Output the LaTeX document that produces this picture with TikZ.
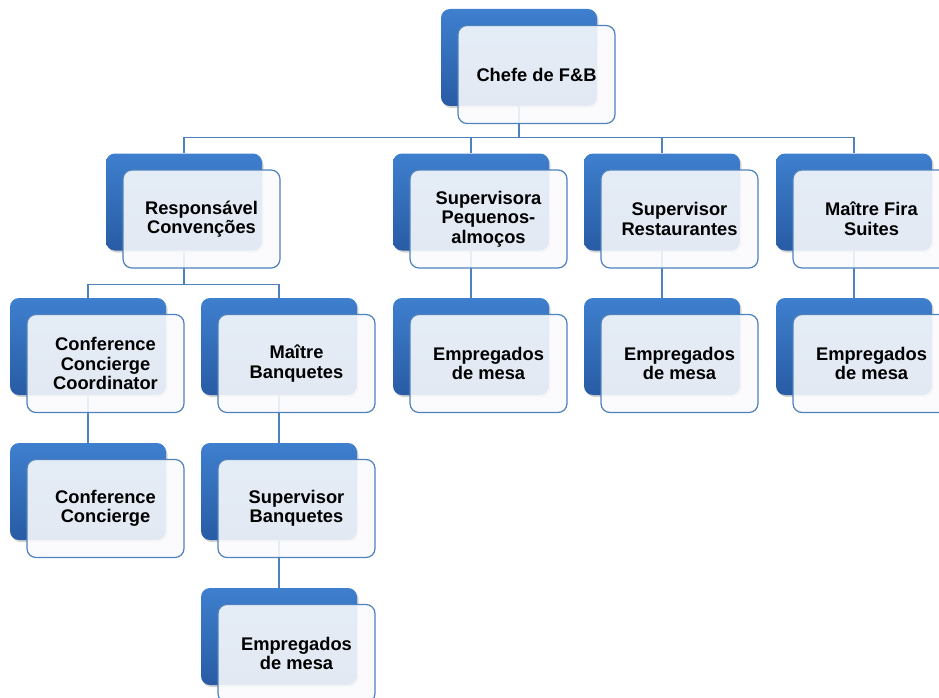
\documentclass[tikz,border=0pt]{standalone}
\usepackage{fontspec}
\setmainfont{Liberation Sans}
\usepackage{tikz}
\usetikzlibrary{shadows,backgrounds}
\definecolor{unittop}{RGB}{62,127,206}
\definecolor{unitbot}{RGB}{40,92,164}
\definecolor{unitline}{RGB}{79,129,189}
\definecolor{unitfill}{RGB}{250,251,253}
\tikzset{
    %Define style for the blue back boxes
    backrect/.style={
           rectangle,
           rounded corners=9pt,
           draw=none,
           top color=unittop,
           bottom color=unitbot,
           minimum width=156pt,
           minimum height=97pt,
           drop shadow={opacity=0.35,shadow xshift=1.5pt,shadow yshift=-2pt}
           },
    %Define style for the text boxes
    frontrect/.style={
           rectangle,
           rounded corners=9pt,
           draw=unitline, line width=1.2pt,
           fill=unitfill, fill opacity=0.89, text opacity=1,
           minimum width=157pt,
           minimum height=98pt,
           font=\fontsize{18.3}{19.5}\selectfont\bfseries,
           align=center
           },
    % Define connector style
    conn/.style={
           draw=unitline,
           line width=1.3pt}
}
\begin{document}
\begin{tikzpicture}[x=1pt,y=-1pt]
\clip (0,0) rectangle (939,698);
 %back boxes
\foreach \n/\x/\y in {chefe/519/57.5,
    resp/184/202, supv/471/202, rest/662/202, fira/854/202,
    ccc/88/346.5, mban/279/346.5, empa/471/346.5, empb/662/346.5, empc/854/346.5,
    cc/88/491.5, sban/279/491.5, empd/279/636.5}
  \node[backrect] (\n-b) at (\x,\y) {};
 %text boxes
\node[frontrect] (chefe) at ([shift={(17.5,17)}]chefe-b) {Chefe de F\&B};
\node[frontrect] (resp) at ([shift={(17.5,17)}]resp-b) {Responsável\\Convenções};
\node[frontrect] (supv) at ([shift={(17.5,17)}]supv-b) {Supervisora\\Pequenos-\\almoços};
\node[frontrect] (rest) at ([shift={(17.5,17)}]rest-b) {Supervisor\\Restaurantes};
\node[frontrect] (fira) at ([shift={(17.5,17)}]fira-b) {Maître Fira\\Suites};
\node[frontrect] (ccc) at ([shift={(17.5,17)}]ccc-b) {Conference\\Concierge\\Coordinator};
\node[frontrect] (mban) at ([shift={(17.5,17)}]mban-b) {Maître\\Banquetes};
\node[frontrect] (empa) at ([shift={(17.5,17)}]empa-b) {Empregados\\de mesa};
\node[frontrect] (empb) at ([shift={(17.5,17)}]empb-b) {Empregados\\de mesa};
\node[frontrect] (empc) at ([shift={(17.5,17)}]empc-b) {Empregados\\de mesa};
\node[frontrect] (cc) at ([shift={(17.5,17)}]cc-b) {Conference\\Concierge};
\node[frontrect] (sban) at ([shift={(17.5,17)}]sban-b) {Supervisor\\Banquetes};
\node[frontrect] (empd) at ([shift={(17.5,17)}]empd-b) {Empregados\\de mesa};
 %connectors
\begin{scope}[on background layer]
\foreach \c in {resp,supv,rest,fira}
  \draw[conn] (chefe-b.south) -- ++(0,31) -| (\c-b.north);
\foreach \c in {ccc,mban}
  \draw[conn] (resp-b.south) -- ++(0,34) -| (\c-b.north);
\draw[conn] (supv-b.south) -- (empa-b.north);
\draw[conn] (rest-b.south) -- (empb-b.north);
\draw[conn] (fira-b.south) -- (empc-b.north);
\draw[conn] (ccc-b.south) -- (cc-b.north);
\draw[conn] (mban-b.south) -- (sban-b.north);
\draw[conn] (sban-b.south) -- (empd-b.north);
\end{scope}
\end{tikzpicture}
\end{document}
